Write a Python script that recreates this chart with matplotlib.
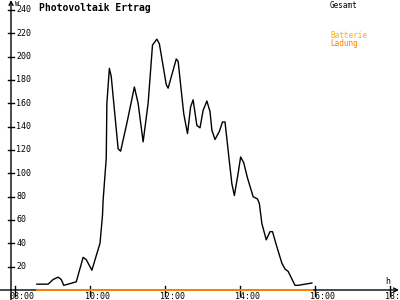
import matplotlib
matplotlib.use("Agg")
import matplotlib.pyplot as plt
import numpy as np

# ==========================================
# Photovoltaik Ertrag - Tagesverlauf (W)
# ==========================================

zeiten = ["08:35", "08:53", "09:01", "09:09", "09:14", "09:18", "09:25", "09:38",
          "09:49", "09:54", "10:03", "10:16", "10:20", "10:21", "10:26", "10:27",
          "10:31", "10:34", "10:37", "10:45", "10:49", "10:59", "11:11", "11:17",
          "11:25", "11:33", "11:40", "11:47", "11:51", "12:02", "12:05", "12:18",
          "12:21", "12:30", "12:36", "12:41", "12:45", "12:51", "12:56", "13:01",
          "13:07", "13:12", "13:15", "13:20", "13:27", "13:32", "13:36", "13:43",
          "13:47", "13:51", "13:57", "14:01", "14:06", "14:12", "14:21", "14:28",
          "14:31", "14:35", "14:42", "14:48", "14:52", "14:59", "15:07", "15:12",
          "15:17", "15:28", "15:33", "15:44", "15:55"]
gesamt = [5, 5, 9, 11, 9, 4, 5, 7,
          28, 26, 17, 40, 64, 77, 113, 160,
          190, 183, 166, 121, 119, 143, 174, 160,
          127, 160, 210, 215, 211, 176, 173, 198,
          196, 151, 134, 157, 163, 141, 139, 154,
          162, 153, 137, 129, 136, 144, 144, 110,
          91, 81, 100, 114, 109, 96, 80, 78,
          74, 57, 43, 50, 50, 37, 23, 18,
          16, 4, 4, 5, 6]

ladung_zeiten = ["08:35", "15:55"]
ladung = [0, 0]

y_ticks = [20, 40, 60, 80, 100, 120, 140, 160, 180, 200, 220, 240]
x_ticks = [8, 10, 12, 14, 16, 18]
x_labels = ["08:00", "10:00", "12:00", "14:00", "16:00", "18:00"]


def stunden(liste):
    return [int(t[:2]) + int(t[3:]) / 60 for t in liste]


# Pixel -> Daten (Layout-Hilfen)
def px_x(px):
    return 8 + (px - 15) / 37.5


def px_y(py):
    return (290 - py) / (280 / 240)


fig = plt.figure(figsize=(4, 3), dpi=100)
ax = fig.add_axes([15 / 400, 10 / 300, 375 / 400, 280 / 300])
ax.set_xlim(8, 18)
ax.set_ylim(0, 240)
ax.axis("off")

mono = "DejaVu Sans Mono"

# Achsen mit Pfeilen
ax.annotate("", xy=(px_x(11), px_y(0)), xytext=(px_x(11), px_y(300)),
            arrowprops=dict(arrowstyle="->", lw=1, color="black",
                            shrinkA=0, shrinkB=0, mutation_scale=7),
            annotation_clip=False)
ax.annotate("", xy=(px_x(399), 0), xytext=(px_x(0), 0),
            arrowprops=dict(arrowstyle="->", lw=1, color="black",
                            shrinkA=0, shrinkB=0, mutation_scale=7),
            annotation_clip=False)

# Y-Ticks
for v in y_ticks:
    ax.plot([px_x(8), px_x(14)], [v, v], color="black", lw=1, clip_on=False)
    ax.text(px_x(16.5), v, str(v), fontsize=6, family=mono,
            ha="left", va="center")

# X-Ticks
for h, lab in zip(x_ticks, x_labels):
    ax.plot([h, h], [px_y(286), px_y(296)], color="black", lw=1, clip_on=False)
    ax.text(px_x(15 + (h - 8) * 37.5 - 5), px_y(296.5), lab, fontsize=6,
            family=mono, ha="left", va="center", clip_on=False)

ax.text(px_x(15), px_y(4), "W", fontsize=5, family=mono, ha="left", va="center")
ax.text(px_x(385), px_y(281), "h", fontsize=6, family=mono, ha="left", va="center")

# Daten
ax.plot(stunden(ladung_zeiten), ladung, color="#FF8000", lw=1.4,
        clip_on=False, zorder=10)
ax.plot(stunden(zeiten), gesamt, color="black", lw=1, clip_on=False, zorder=9)

# Titel und Legende
ax.text(px_x(39), px_y(7.5), "Photovoltaik Ertrag", fontsize=7, family=mono,
        weight="bold", ha="left", va="center")
ax.text(px_x(330), px_y(5), "Gesamt", fontsize=5.5, family=mono,
        color="black", ha="left", va="center")
ax.text(px_x(330), px_y(36), "Batterie", fontsize=5.5, family=mono,
        color="#FFB000", ha="left", va="center")
ax.text(px_x(330), px_y(44), "Ladung", fontsize=5.5, family=mono,
        color="#FF8000", ha="left", va="center")

plt.savefig("out.png", dpi=100)
